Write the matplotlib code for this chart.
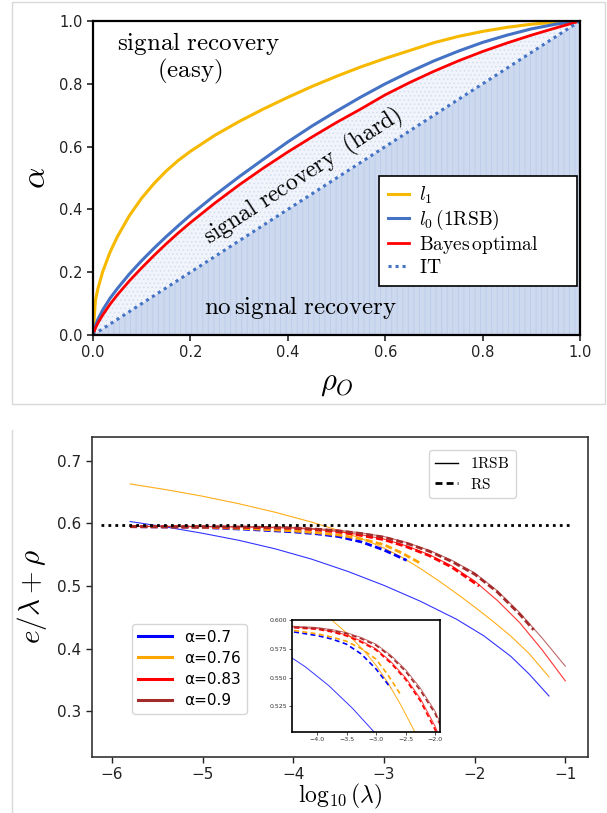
import matplotlib
matplotlib.use("Agg")
import matplotlib.pyplot as plt
from matplotlib.lines import Line2D
from matplotlib.patches import Rectangle

plt.rcParams['mathtext.fontset'] = 'cm'
plt.rcParams['hatch.linewidth'] = 0.6

# ---- top panel: phase diagram ----
rho0 = [0, 0.005, 0.01, 0.02, 0.035, 0.05, 0.075, 0.1, 0.125, 0.15, 0.175, 0.2,
        0.25, 0.3, 0.35, 0.4, 0.45, 0.5, 0.55, 0.6, 0.65, 0.7, 0.75, 0.8, 0.85,
        0.9, 0.95, 1.0]
alpha_l1 = [0, 0.11, 0.147, 0.202, 0.264, 0.313, 0.381, 0.436, 0.482, 0.522, 0.556,
            0.585, 0.636, 0.680, 0.720, 0.757, 0.792, 0.824, 0.854, 0.881, 0.906,
            0.931, 0.951, 0.967, 0.980, 0.990, 0.996, 1.0]
alpha_l0 = [0, 0.03, 0.05, 0.08, 0.117, 0.148, 0.195, 0.237, 0.276, 0.313, 0.348,
            0.382, 0.445, 0.504, 0.56, 0.615, 0.666, 0.713, 0.758, 0.80, 0.838,
            0.873, 0.904, 0.932, 0.955, 0.975, 0.99, 1.0]
alpha_bayes = [0, 0.022, 0.038, 0.064, 0.098, 0.128, 0.173, 0.214, 0.253, 0.29, 0.325,
               0.358, 0.42, 0.478, 0.532, 0.583, 0.631, 0.677, 0.72, 0.765, 0.804,
               0.84, 0.873, 0.903, 0.93, 0.955, 0.978, 1.0]

# ---- bottom panel: e/lambda + rho vs log10(lambda) ----
x_07_1rsb = [-5.8, -5.4, -5.0, -4.6, -4.2, -3.8, -3.4, -3.0, -2.6, -2.2, -1.9, -1.6, -1.4, -1.18]
y_07_1rsb = [0.603, 0.5942, 0.5842, 0.573, 0.5594, 0.543, 0.5234, 0.501, 0.4758, 0.447,
             0.4206, 0.3876, 0.3596, 0.3244]
x_076_1rsb = [-5.8, -5.4, -5.0, -4.6, -4.2, -3.8, -3.5, -3.2, -3.0, -2.8, -2.6, -2.4,
              -2.2, -2.0, -1.8, -1.6, -1.4, -1.18]
y_076_1rsb = [0.663, 0.6538, 0.6434, 0.6314, 0.6178, 0.6022, 0.5887, 0.5731, 0.5607,
              0.5457, 0.5281, 0.5087, 0.4881, 0.4665, 0.4439, 0.4199, 0.3923, 0.3549]
x_083_1rsb = [-5.8, -5.0, -4.5, -4.0, -3.75, -3.5, -3.25, -3.0, -2.75, -2.5, -2.25,
              -2.0, -1.75, -1.5, -1.25, -1.0]
y_083_1rsb = [0.5952, 0.5948, 0.5941, 0.5925, 0.5903, 0.587, 0.5818, 0.575, 0.564,
              0.55, 0.532, 0.508, 0.477, 0.441, 0.397, 0.3485]
x_09_1rsb = [-5.8, -5.0, -4.5, -4.0, -3.75, -3.5, -3.25, -3.0, -2.75, -2.5, -2.25,
             -2.0, -1.75, -1.5, -1.25, -1.0]
y_09_1rsb = [0.5955, 0.5952, 0.5948, 0.5935, 0.5917, 0.589, 0.5848, 0.579, 0.5695,
             0.557, 0.541, 0.521, 0.4925, 0.457, 0.416, 0.372]

x_07_rs = [-5.8, -5.0, -4.5, -4.0, -3.75, -3.5, -3.25, -3.0, -2.75]
y_07_rs = [0.5948, 0.5935, 0.5905, 0.5865, 0.5835, 0.579, 0.5705, 0.5575, 0.541]
x_076_rs = [-5.8, -5.0, -4.5, -4.0, -3.75, -3.5, -3.25, -3.0, -2.8, -2.58]
y_076_rs = [0.595, 0.594, 0.5917, 0.588, 0.5852, 0.5815, 0.5752, 0.566, 0.5525, 0.535]
x_083_rs = [-5.8, -5.0, -4.5, -4.0, -3.75, -3.5, -3.25, -3.0, -2.75, -2.5, -2.25, -1.95]
y_083_rs = [0.5948, 0.5944, 0.5936, 0.592, 0.5897, 0.5862, 0.5808, 0.574, 0.5627,
            0.5485, 0.530, 0.500]
x_09_rs = [-5.8, -5.0, -4.5, -4.0, -3.75, -3.5, -3.25, -3.0, -2.75, -2.5, -2.25, -2.0,
           -1.75, -1.5, -1.35]
y_09_rs = [0.5950, 0.5947, 0.5942, 0.5928, 0.5909, 0.5882, 0.5838, 0.578, 0.5683,
           0.5555, 0.539, 0.519, 0.4905, 0.4545, 0.430]

rs_level = 0.598
alpha_labels = ['α=0.7', 'α=0.76', 'α=0.83', 'α=0.9']
colors = ['blue', 'orange', 'red', 'brown']

fig = plt.figure(figsize=(6.07, 8.13), dpi=100)

# light frames around the two panels
fig.patches.append(Rectangle((12 / 607, 1 - 404 / 813), 593 / 607, 402 / 813,
                             transform=fig.transFigure, fill=False, ec='#d9d9d9', lw=1))
fig.lines.append(Line2D([12 / 607, 12 / 607], [0, 1 - 430 / 813],
                        transform=fig.transFigure, color='#d9d9d9', lw=1))

# ================= top =================
ax = fig.add_axes([0.1532, 0.5879, 0.8023, 0.3862])
ax.fill_between(rho0, 0, rho0, facecolor='#cdd9ef', edgecolor='#bccbe8', hatch='|||', lw=0)
ax.fill_between(rho0, rho0, alpha_bayes, facecolor='#f1f4fb', edgecolor='#d3ddf0', hatch='....', lw=0)

ax.plot(rho0, alpha_l1, color='#f7b900', lw=2.2, label=r'$l_1$')
ax.plot(rho0, alpha_l0, color='#4472c4', lw=2.2, label=r'$l_0\,(\mathrm{1RSB})$')
ax.plot(rho0, alpha_bayes, color='#ff0000', lw=2.0, label=r'$\mathrm{Bayes\,optimal}$')
ax.plot(rho0, rho0, color='#4472c4', lw=2.2, linestyle=(0, (1, 1.3)), label=r'$\mathrm{IT}$')

ax.set_xlim(0, 1)
ax.set_ylim(0, 1)
ax.set_xticks([0, 0.2, 0.4, 0.6, 0.8, 1.0])
ax.set_yticks([0, 0.2, 0.4, 0.6, 0.8, 1.0])
ax.set_xticklabels(['0.0', '0.2', '0.4', '0.6', '0.8', '1.0'])
ax.set_yticklabels(['0.0', '0.2', '0.4', '0.6', '0.8', '1.0'])
ax.tick_params(labelsize=10.5, length=4, width=1.2, colors='#222222')
for s in ax.spines.values():
    s.set_linewidth(1.6)
    s.set_color('black')
ax.set_xlabel(r'$\rho_O$', fontsize=22, labelpad=6)
ax.set_ylabel(r'$\alpha$', fontsize=24, labelpad=5)

ax.text(0.216, 0.93, r'$\mathrm{signal\ recovery}$', fontsize=18, ha='center', va='center')
ax.text(0.198, 0.838, r'$\mathrm{(easy)}$', fontsize=18, ha='center', va='center')
ax.text(0.432, 0.505, r'$\mathrm{signal\ recovery\ \ (hard)}$', fontsize=17,
        ha='center', va='center', rotation=33)
ax.text(0.426, 0.089, r'$\mathrm{no\,signal\ recovery}$', fontsize=18, ha='center', va='center')

leg = ax.legend(loc='upper left', bbox_to_anchor=(0.587, 0.2, 0.407, 0.306), mode='expand',
                borderaxespad=0, fontsize=14, fancybox=False, framealpha=1,
                edgecolor='black', handlelength=1.1, handletextpad=0.5,
                labelspacing=0.1, borderpad=0.45)
leg.get_frame().set_linewidth(1.2)

# ================= bottom =================
bx = fig.add_axes([0.1516, 0.0689, 0.8163, 0.3936])
solid = [(x_07_1rsb, y_07_1rsb), (x_076_1rsb, y_076_1rsb),
         (x_083_1rsb, y_083_1rsb), (x_09_1rsb, y_09_1rsb)]
dashed = [(x_07_rs, y_07_rs), (x_076_rs, y_076_rs),
          (x_083_rs, y_083_rs), (x_09_rs, y_09_rs)]
solid_alpha = [0.8, 0.9, 0.8, 0.7]

for (xs, ys), c, a in zip(solid, colors, solid_alpha):
    bx.plot(xs, ys, color=c, lw=0.8, alpha=a)
for (xs, ys), c in zip(dashed, colors):
    bx.plot(xs, ys, color=c, lw=2.0, dashes=(2.5, 1.2))
bx.plot([-6.12, -0.92], [rs_level, rs_level], color='black', lw=2, linestyle=(0, (1, 1.5)))

bx.set_xlim(-6.22, -0.755)
bx.set_ylim(0.227, 0.738)
bx.set_xticks([-6, -5, -4, -3, -2, -1])
bx.set_yticks([0.3, 0.4, 0.5, 0.6, 0.7])
bx.tick_params(labelsize=11, length=4, width=1, colors='#222222')
for s in bx.spines.values():
    s.set_linewidth(1.2)
    s.set_color('#333333')
bx.set_xlabel(r'$\log_{10}(\lambda)$', fontsize=17, labelpad=0)
bx.set_ylabel(r'$e/\lambda+\rho$', fontsize=21, labelpad=6)

handles = [Line2D([], [], color=c, lw=2.2) for c in colors]
leg1 = bx.legend(handles, alpha_labels, loc='lower left', bbox_to_anchor=(0.081, 0.134),
                 borderaxespad=0, fontsize=11, handlelength=2.2, labelspacing=0.4)
bx.add_artist(leg1)
style_handles = [Line2D([], [], color='black', lw=1),
                 Line2D([], [], color='black', lw=2, dashes=(2.5, 1.5))]
bx.legend(style_handles, [r'$\mathrm{1RSB}$', r'$\mathrm{RS}$'], loc='upper right',
          bbox_to_anchor=(0.855, 0.959), borderaxespad=0, fontsize=11,
          handlelength=1.5, labelspacing=0.35)

# inset
ix = fig.add_axes([0.4806, 0.0996, 0.2438, 0.1378])
for (xs, ys), c, a in zip(solid, colors, solid_alpha):
    ix.plot(xs, ys, color=c, lw=0.7, alpha=a)
for (xs, ys), c in zip(dashed, colors):
    ix.plot(xs, ys, color=c, lw=1.2, dashes=(3, 2))
ix.set_xlim(-4.43, -1.92)
ix.set_ylim(0.5028, 0.600)
ix.set_xticks([-4.0, -3.5, -3.0, -2.5, -2.0])
ix.set_yticks([0.525, 0.550, 0.575, 0.600])
ix.tick_params(labelsize=4.5, length=2, width=0.6, pad=1.5, colors='#333333')
for s in ix.spines.values():
    s.set_linewidth(1.2)
    s.set_color('black')

fig.savefig('out.png', dpi=100)
